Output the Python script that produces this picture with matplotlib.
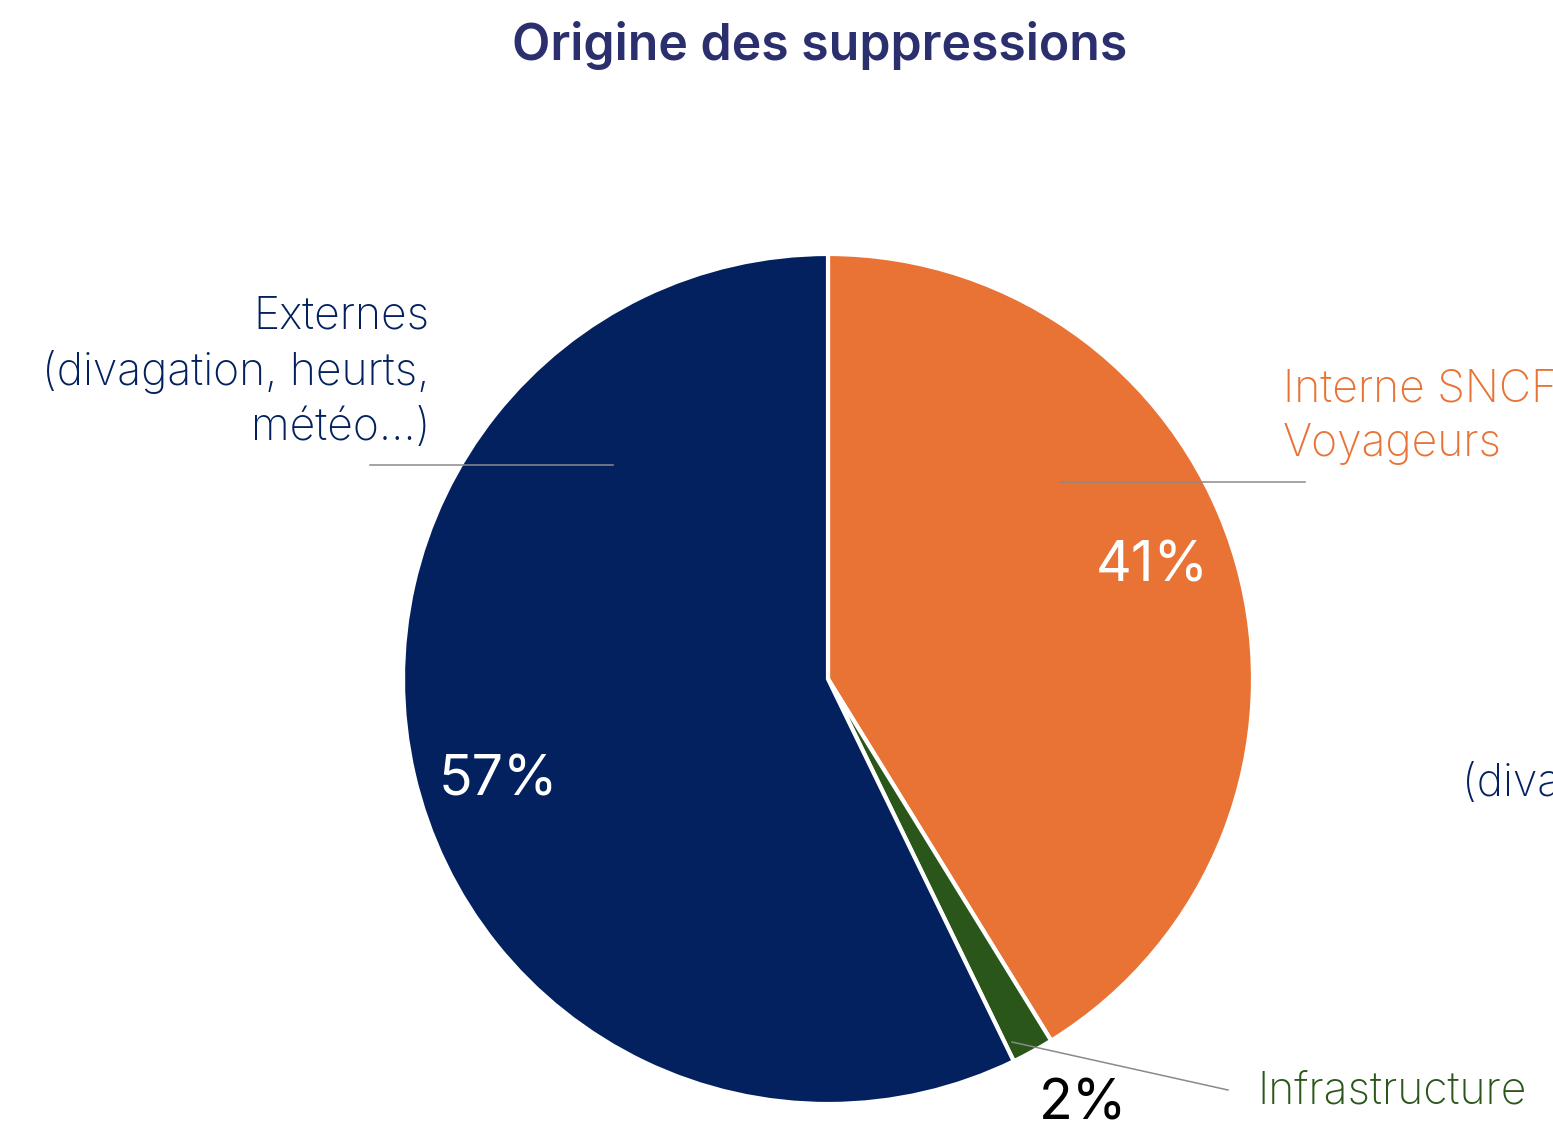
import matplotlib.pyplot as plt

categories = ["Interne SNCF\nVoyageurs", "Infrastructure", "Externes\n(divagation, heurts,\nmétéo...)"]
values = [41.2, 1.6, 57.2]
colors = ["#e97334", "#2a5619", "#03215e"]
pct_colors = ["white", "black", "white"]
title = "Origine des suppressions"

W, H = 1553, 1124
CX, CY, R = 828, 679, 425

fig = plt.figure(figsize=(W / 100, H / 100), dpi=100)
fig.patch.set_facecolor("white")
ax = fig.add_axes([(CX - R) / W, (H - CY - R) / H, 2 * R / W, 2 * R / H])
ax.axis("off")

def px(x, y):
    return (x - CX) / R, (CY - y) / R

FONT = "Inter"

wedges, _ = ax.pie(values, colors=colors, startangle=90, counterclock=False, radius=1,
                   wedgeprops=dict(edgecolor="white", linewidth=3))
ax.set_xlim(-1, 1)
ax.set_ylim(-1, 1)
ax.set_aspect("equal")

# percent labels
pct_pos = [px(1152, 567), px(1083, 1105), px(498, 781)]
for v, pos, c in zip(values, pct_pos, pct_colors):
    ax.text(pos[0], pos[1], f"{v:.0f}%", ha="center", va="center", color=c,
            fontsize=40, family=FONT, fontweight="normal", clip_on=False)

# leader lines
lc = "#8a8a8a"
for (x0, y0), (x1, y1) in [((370, 465), (613, 465)), ((1060, 482), (1305, 482)), ((1012, 1042), (1228, 1090))]:
    a, b = px(x0, y0), px(x1, y1)
    ax.plot([a[0], b[0]], [a[1], b[1]], color=lc, lw=1.1, clip_on=False)

# category labels
lab_fs = 32
p = px(430, 372)
ax.text(p[0], p[1], categories[2], ha="right", va="center", color="#03215e", fontsize=lab_fs,
        family=FONT, fontweight="light", linespacing=1.38, clip_on=False)
p = px(1283, 417)
ax.text(p[0], p[1], categories[0], ha="left", va="center", color="#e97334", fontsize=lab_fs,
        family=FONT, fontweight="light", linespacing=1.38, clip_on=False)
p = px(1257, 1092)
ax.text(p[0], p[1], categories[1], ha="left", va="center", color="#2a5619", fontsize=lab_fs,
        family=FONT, fontweight="light", clip_on=False)
p = px(1462, 783)
ax.text(p[0], p[1], "(divagation, heurts,", ha="left", va="center", color="#03215e", fontsize=lab_fs,
        family=FONT, fontweight="light", clip_on=False)

fig.text(820 / W, 1 - 45 / H, title, ha="center", va="center", color="#2b2f6e",
         fontsize=36, family=FONT, fontweight="semibold")

fig.savefig("out.png", dpi=100, facecolor="white")
